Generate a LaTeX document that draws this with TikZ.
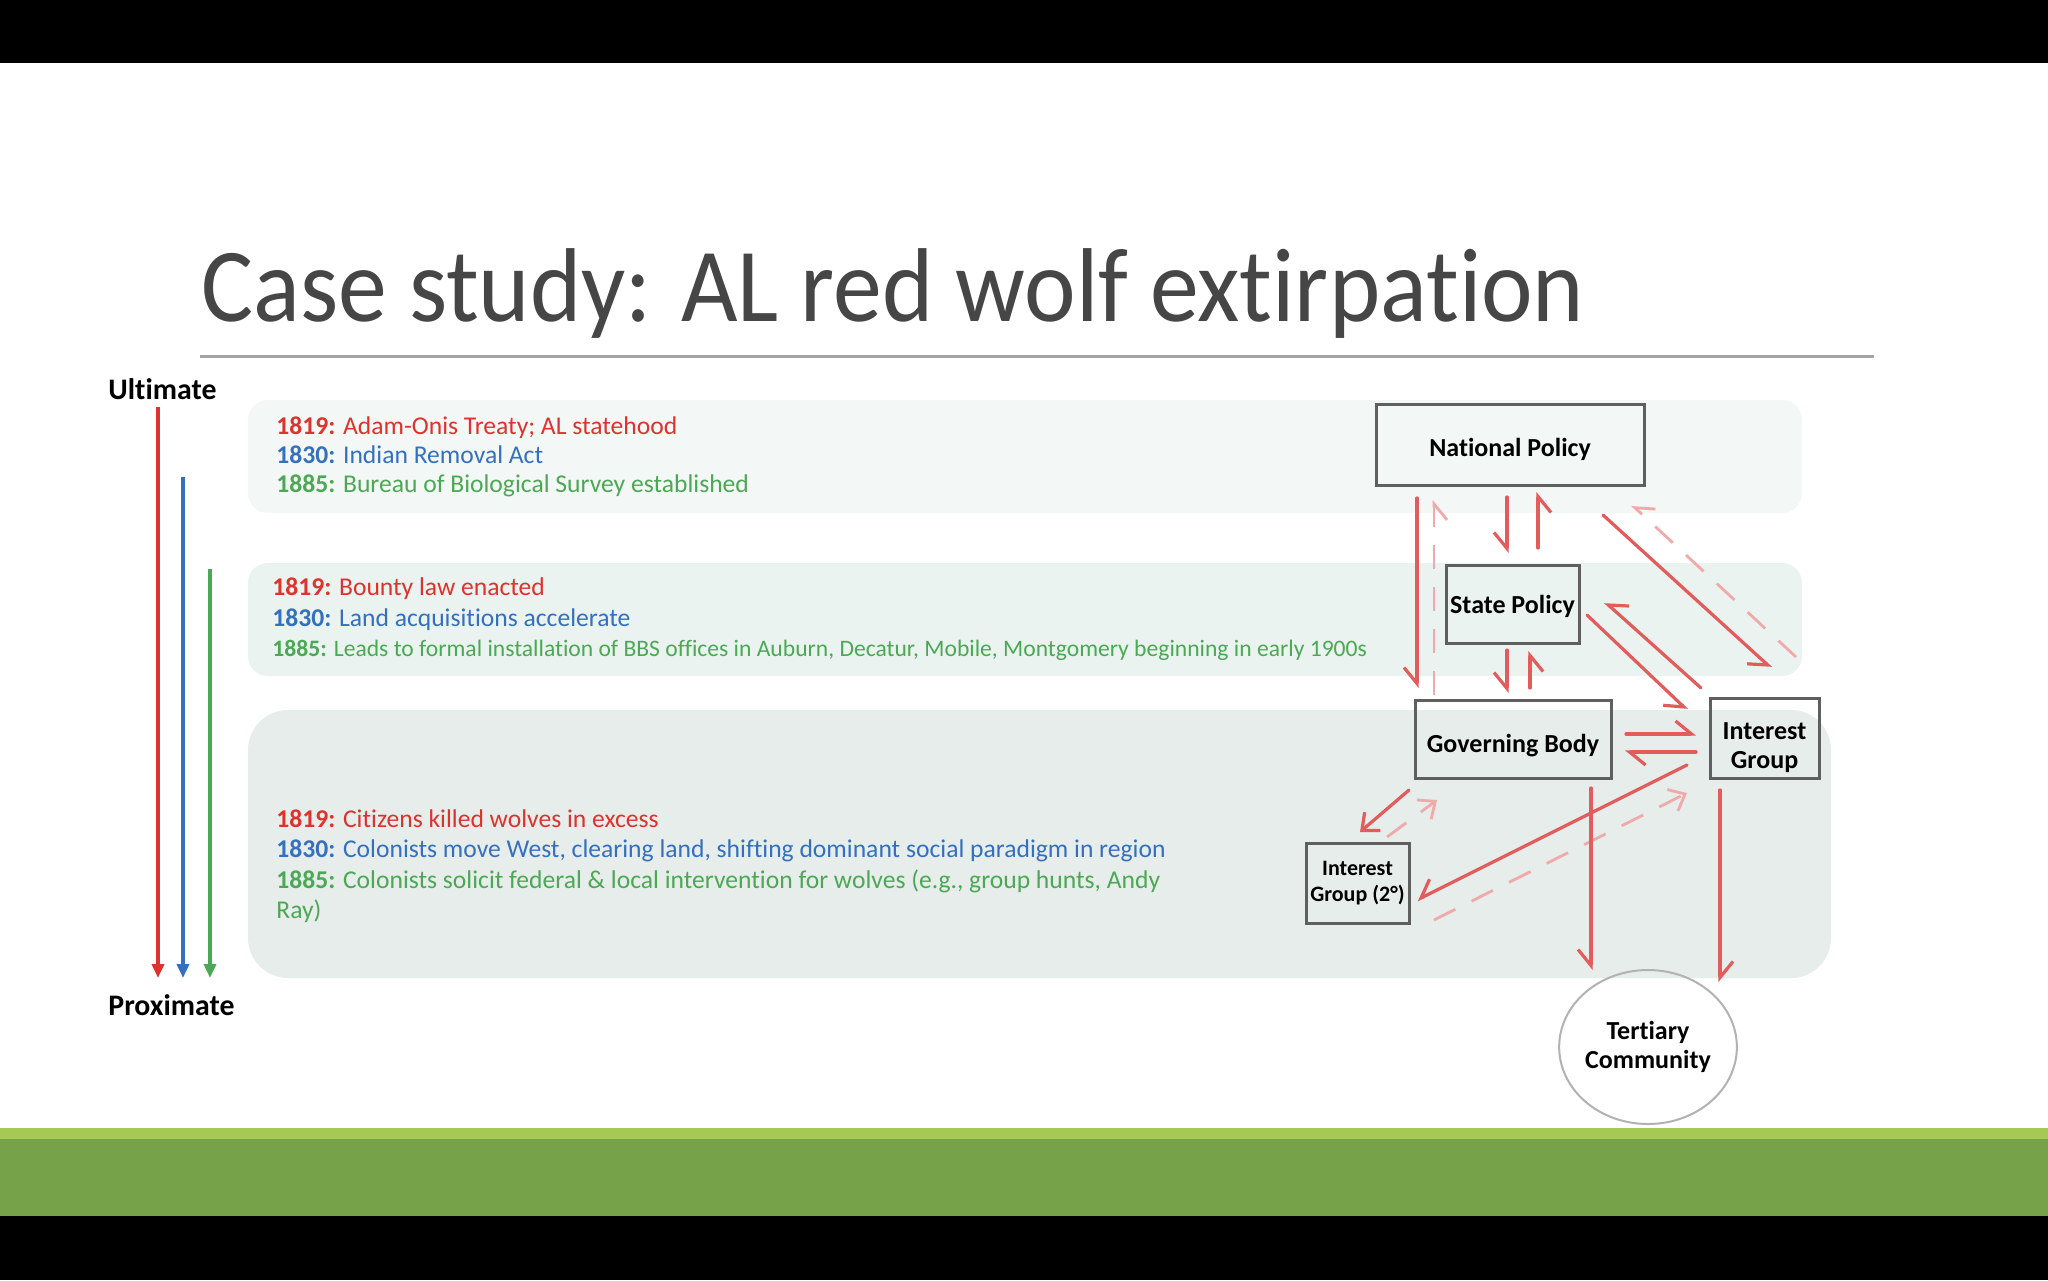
\documentclass[tikz,border=0pt]{standalone}
\usepackage{fontspec}
\setmainfont{Carlito}[Ligatures=NoCommon]
\newfontfamily\titlefont{Carlito}[Ligatures=NoCommon,FakeStretch=0.93]
\usetikzlibrary{arrows.meta,calc,shapes.geometric}

\definecolor{titlegray}{RGB}{70,70,70}
\definecolor{rulegray}{RGB}{165,165,165}
\definecolor{yredc}{RGB}{222,50,44}
\definecolor{ybluec}{RGB}{52,112,190}
\definecolor{ygreenc}{RGB}{76,168,84}
\definecolor{bandone}{RGB}{243,248,246}
\definecolor{bandtwo}{RGB}{234,243,240}
\definecolor{bandthree}{RGB}{230,237,235}
\definecolor{arrred}{RGB}{226,92,92}
\definecolor{arrpink}{RGB}{240,170,170}
\definecolor{boxgray}{RGB}{95,95,95}
\definecolor{leafgreen}{RGB}{165,201,82}
\definecolor{mossgreen}{RGB}{118,163,74}

\begin{document}
\begin{tikzpicture}[x=0.5pt,y=-0.5pt,
  entry/.style={anchor=base west,inner sep=0pt,font=\fontsize{12.8}{15}\selectfont},
  box/.style={draw=boxgray,line width=1.5pt,inner sep=2pt,outer sep=0pt,align=center,
    font=\bfseries\fontsize{13}{14.5}\selectfont},
  causal/.style={draw=arrred,line width=1.6pt,line cap=round},
  feedback/.style={draw=arrpink,line width=1.4pt,dash pattern=on 12pt off 9pt},
  rbarb/.style={-{Straight Barb[harpoon,swap,length=8pt,width=13pt]}},
  lbarb/.style={-{Straight Barb[harpoon,length=8pt,width=13pt]}},
  vbarb/.style={-{Straight Barb[length=7pt,width=12pt]}},
  timeline/.style={line width=1.8pt,-{Triangle[length=7pt,width=6pt]}}]
  \def\yr#1#2#3{\textcolor{#1}{\textbf{#2:} #3}}
  \def\padtop#1{\rule{0pt}{#1}}
  \useasboundingbox (0,0) rectangle (2048,1280);
  \fill[white] (0,0) rectangle (2048,1280);
  % frame bars
  \fill[black] (0,0) rectangle (2048,63);
  \fill[leafgreen] (0,1128) rectangle (2048,1139);
  \fill[mossgreen] (0,1139) rectangle (2048,1216);
  \fill[black] (0,1216) rectangle (2048,1280);
  % title
  \node[anchor=base west,inner sep=0pt,text=titlegray,font=\titlefont\fontsize{52.5}{60}\selectfont] (title) at (201,321) {Case study: AL red wolf extirpation};
  \draw[rulegray,line width=1.5pt] (200,356) -- (1874,356);
  % bands
  \fill[bandone,rounded corners=10pt] (248,400) rectangle (1802,513);
  \fill[bandtwo,rounded corners=10pt] (248,563) rectangle (1802,676);
  \fill[bandthree,rounded corners=20pt] (248,710) rectangle (1831,978);
  % time axis
  \node[anchor=base west,inner sep=0pt,font=\bfseries\fontsize{14.9}{16}\selectfont] (ult) at (108,399) {Ultimate};
  \node[anchor=base west,inner sep=0pt,font=\bfseries\fontsize{14.9}{16}\selectfont] (prox) at (108,1015) {Proximate};
  \draw[timeline,yredc] (158,407) -- (158,978);
  \draw[timeline,ybluec] (183,477) -- (183,978);
  \draw[timeline,ygreenc] (210,569) -- (210,978);
  % national level
  \node[entry] (natA) at (276,434) {\yr{yredc}{1819}{Adam-Onis Treaty; AL statehood}};
  \node[entry] (natB) at (276,463) {\yr{ybluec}{1830}{Indian Removal Act}};
  \node[entry] (natC) at (276,492) {\yr{ygreenc}{1885}{Bureau of Biological Survey established}};
  % state level
  \node[entry] (staA) at (272,595) {\yr{yredc}{1819}{Bounty law enacted}};
  \node[entry] (staB) at (272,626) {\yr{ybluec}{1830}{Land acquisitions accelerate}};
  \node[entry,font=\fontsize{11.8}{13}\selectfont] (staC) at (272,656) {\yr{ygreenc}{1885}{Leads to formal installation of BBS offices in Auburn, Decatur, Mobile, Montgomery beginning in early 1900s}};
  % local level
  \node[entry] (locA) at (276,827) {\yr{yredc}{1819}{Citizens killed wolves in excess}};
  \node[entry] (locB) at (276,857) {\yr{ybluec}{1830}{Colonists move West, clearing land, shifting dominant social paradigm in region}};
  \node[entry] (locC) at (276,888) {\yr{ygreenc}{1885}{Colonists solicit federal \& local intervention for wolves (e.g., group hunts, Andy}};
  \node[entry,text=ygreenc] (locD) at (276,918) {Ray)};
  % governance diagram
  \node[box,minimum width=134pt,minimum height=40.5pt] (np) at (1510,444.5) {\padtop{14pt}National Policy};
  \node[box,minimum width=66.5pt,minimum height=39pt] (sp) at (1512.5,604) {\padtop{11.7pt}State Policy};
  \node[box,minimum width=98pt,minimum height=39pt] (gb) at (1513,739) {\padtop{15.6pt}Governing Body};
  \node[box,minimum width=54.5pt,minimum height=40pt] (ig) at (1764.5,738) {\padtop{18pt}Interest\\Group};
  \node[box,minimum width=51.5pt,minimum height=40pt,font=\bfseries\fontsize{11}{13}\selectfont] (igtwo) at (1357.5,883) {Interest\\Group (2\textdegree)};
  \node[box,ellipse,draw=gray!60,line width=1pt,inner sep=0pt,minimum width=86pt,minimum height=77pt] (tc) at (1648,1047) {Tertiary\\Community};
  % vertical links
  \draw[causal,rbarb] ($(np.south west)+(41,13)$) -- ($(gb.north west)+(2,-12)$);
  \draw[feedback,rbarb] ($(gb.north west)+(19,-5)$) -- ($(np.south west)+(58,15)$);
  \draw[causal,rbarb] ($(np.south)+(-3,12)$) -- ($(sp.north)+(-5.5,-12)$);
  \draw[causal,rbarb] ($(sp.north)+(25.5,-17)$) -- ($(np.south)+(28,7)$);
  \draw[causal,rbarb] ($(sp.south)+(-5.5,7)$) -- ($(gb.north)+(-6,-7)$);
  \draw[causal,rbarb] ($(gb.north)+(17,-12)$) -- ($(sp.south)+(17.5,8)$);
  % diagonal links to interest group
  \draw[causal,rbarb] ($(np.south east)+(-41,30)$) -- ($(ig.north)+(6.5,-30)$);
  \draw[feedback,rbarb] ($(ig.north east)+(-23,-41)$) -- ($(np.south east)+(-12,20)$);
  \draw[causal,rbarb] ($(sp.north east)+(8,50)$) -- ($(ig.west)+(-23,-28)$);
  \draw[causal,rbarb] ($(ig.north west)+(-9,-10)$) -- ($(sp.north east)+(26,37)$);
  \draw[causal,lbarb] ($(gb.east)+(15,-5)$) -- ($(ig.west)+(-14,-4)$);
  \draw[causal,lbarb] ($(ig.west)+(-14,14)$) -- ($(gb.east)+(14,13)$);
  % secondary group
  \draw[causal,vbarb] ($(gb.south west)+(-6,12)$) -- ($(igtwo.north)+(2.5,-11)$);
  \draw[feedback,vbarb] ($(igtwo.north east)+(-22,-6)$) -- ($(gb.south west)+(22,22)$);
  \draw[causal,rbarb] ($(ig.south west)+(-23,-13)$) -- ($(igtwo.east)+(8,17)$);
  \draw[feedback,vbarb] ($(igtwo.south east)+(25,-3)$) -- ($(ig.south west)+(-23,15)$);
  % tertiary community
  \draw[causal,rbarb] ($(gb.south east)+(-20,10)$) -- ($(tc.north)+(-57,0)$);
  \draw[causal,lbarb] ($(ig.south west)+(10,12)$) -- ($(tc.north)+(72,12)$);
\end{tikzpicture}
\end{document}
